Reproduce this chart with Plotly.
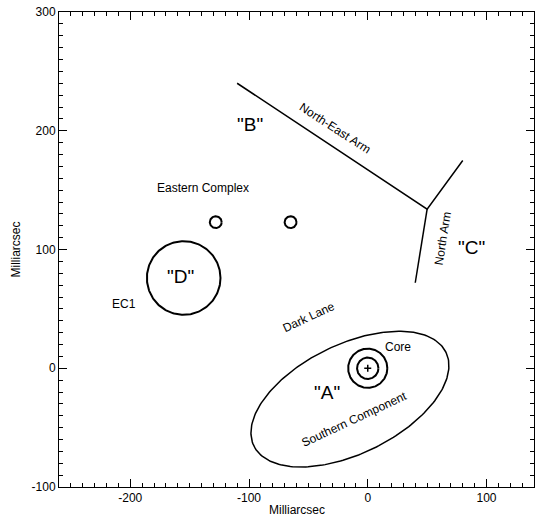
import numpy as np
import plotly.graph_objects as go

# ---- data (milliarcsec) ----
ne_arm_x = [-110, 50, 80]
ne_arm_y = [240, 134, 175]
n_arm_x = [50, 40]
n_arm_y = [134, 72]

circle_cx = [-128, -65, -155, 0, 0]
circle_cy = [123, 123, 76, 0, 0]
circle_r = [5, 5, 31, 16.5, 9]

ellipse_cx = -15
ellipse_cy = -26
ellipse_a = 90
ellipse_b = 46
ellipse_angle_deg = 26

core_x = [0]
core_y = [0]

label_text = ['"B"', 'North-East Arm', 'Eastern Complex', '"C"', 'North Arm',
              '"D"', 'EC1', 'Dark Lane', 'Core', '"A"', 'Southern Component']
label_x = [-99, -28, -139, 87, 63, -158, -205, -49.5, 25.5, -34, -11]
label_y = [205, 202, 152, 102, 109, 77, 54, 43, 18, -20, -43]
label_size = [19, 12, 12, 19, 12, 19, 12, 12, 12, 19, 12]
label_angle = [0, 33, 0, 0, -81, 0, 0, -25, 0, 0, -25]

x_ticks = [-200, -100, 0, 100]
y_ticks = [-100, 0, 100, 200, 300]

FONT = "Liberation Sans, Arial, Helvetica, sans-serif"

fig = go.Figure()

fig.add_trace(go.Scatter(x=ne_arm_x, y=ne_arm_y, mode="lines",
                         line=dict(color="black", width=1.5), hoverinfo="skip"))
fig.add_trace(go.Scatter(x=n_arm_x, y=n_arm_y, mode="lines",
                         line=dict(color="black", width=1.5), hoverinfo="skip"))

t = np.linspace(0, 2 * np.pi, 241)
for cx, cy, r in zip(circle_cx, circle_cy, circle_r):
    fig.add_trace(go.Scatter(x=cx + r * np.cos(t), y=cy + r * np.sin(t), mode="lines",
                             line=dict(color="black", width=2), hoverinfo="skip"))

th = np.deg2rad(ellipse_angle_deg)
ex = ellipse_cx + ellipse_a * np.cos(t) * np.cos(th) - ellipse_b * np.sin(t) * np.sin(th)
ey = ellipse_cy + ellipse_a * np.cos(t) * np.sin(th) + ellipse_b * np.sin(t) * np.cos(th)
fig.add_trace(go.Scatter(x=ex, y=ey, mode="lines",
                         line=dict(color="black", width=1.5), hoverinfo="skip"))

fig.add_trace(go.Scatter(x=core_x, y=core_y, mode="markers",
                         marker=dict(symbol="cross-thin", size=5,
                                     line=dict(color="black", width=1.5)),
                         hoverinfo="skip"))

annotations = []
for txt, x, y, s, a in zip(label_text, label_x, label_y, label_size, label_angle):
    annotations.append(dict(x=x, y=y, xref="x", yref="y", text=txt, showarrow=False,
                            textangle=a, xanchor="center", yanchor="middle",
                            font=dict(family=FONT, size=s, color="black")))

annotations.append(dict(x=0.5, y=0, xref="paper", yref="paper", text="Milliarcsec",
                        showarrow=False, xanchor="center", yanchor="middle", yshift=-23,
                        font=dict(family=FONT, size=12, color="black")))
annotations.append(dict(x=0, y=0.5, xref="paper", yref="paper", text="Milliarcsec",
                        showarrow=False, xanchor="center", yanchor="middle", xshift=-44,
                        textangle=-90, font=dict(family=FONT, size=12, color="black")))

axis_common = dict(showgrid=False, zeroline=False, showline=True, linecolor="black",
                   linewidth=1, mirror="ticks", ticks="inside", ticklen=8, tickwidth=1,
                   tickcolor="black", tickfont=dict(family=FONT, size=12, color="black"),
                   minor=dict(ticks="inside", ticklen=4, tickwidth=1, tickcolor="black",
                              dtick=10, showgrid=False))

fig.update_layout(
    width=535, height=516,
    margin=dict(l=59, r=1, t=12, b=29, autoexpand=False),
    paper_bgcolor="white", plot_bgcolor="white",
    showlegend=False,
    annotations=annotations,
    xaxis=dict(range=[-260, 140], tickmode="array", tickvals=x_ticks,
               ticktext=[str(v) for v in x_ticks], **axis_common),
    yaxis=dict(range=[-100, 300], tickmode="array", tickvals=y_ticks,
               ticktext=[str(v) for v in y_ticks], **axis_common),
)

fig.write_html("out.html")
